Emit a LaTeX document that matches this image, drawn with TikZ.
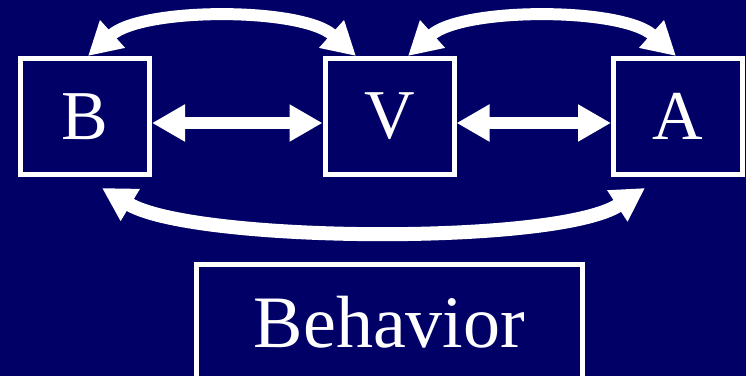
\documentclass[tikz,border=0pt]{standalone}
\usepackage{fontspec}
\setmainfont{Liberation Serif}
\usetikzlibrary{arrows.meta}
\definecolor{navy}{HTML}{000066}

\begin{document}
\begin{tikzpicture}[x=1pt, y=1pt,
    box/.style={draw=white, line width=5pt, text=white, inner sep=0pt,
        minimum width=129pt, minimum height=116pt,
        font=\fontsize{70}{80}\selectfont},
    link/.style={white, line width=12pt,
        {Triangle[length=33pt,width=35pt]}-{Triangle[length=33pt,width=35pt]}}]
    \useasboundingbox (0,0) rectangle (746,376);
    \fill[navy] (0,0) rectangle (746,376);

    \node[box] (B) at (85,259.5) {B};
    \node[box] (V) at (389.5,259.5) {V};
    \node[box] (A) at (678,259.5) {A};
    \node[box, minimum width=386pt, text height=82.5pt, text depth=60pt,
        anchor=base, font=\fontsize{74}{84}\selectfont] (Beh) at (389.5,29) {Behavior};

    % neighbours
    \draw[link] ([yshift=-6.5pt]B.east) -- ([yshift=-6.5pt]V.west);
    \draw[link] ([yshift=-6.5pt]V.east) -- ([yshift=-6.5pt]A.west);

    % arcs over the top
    \draw[link] ([xshift=3pt]B.north) to[out=42, in=138, looseness=0.7] ([xshift=-33.5pt]V.north);
    \draw[link] ([xshift=18.5pt]V.north) to[out=42, in=138, looseness=0.7] ([xshift=-2pt]A.north);

    % B to A underneath
    \draw[link, line width=14pt] ([shift={(17pt,-11pt)}]B.south)
        to[out=-31, in=-147, looseness=0.5] ([shift={(-33pt,-11pt)}]A.south);
\end{tikzpicture}
\end{document}
